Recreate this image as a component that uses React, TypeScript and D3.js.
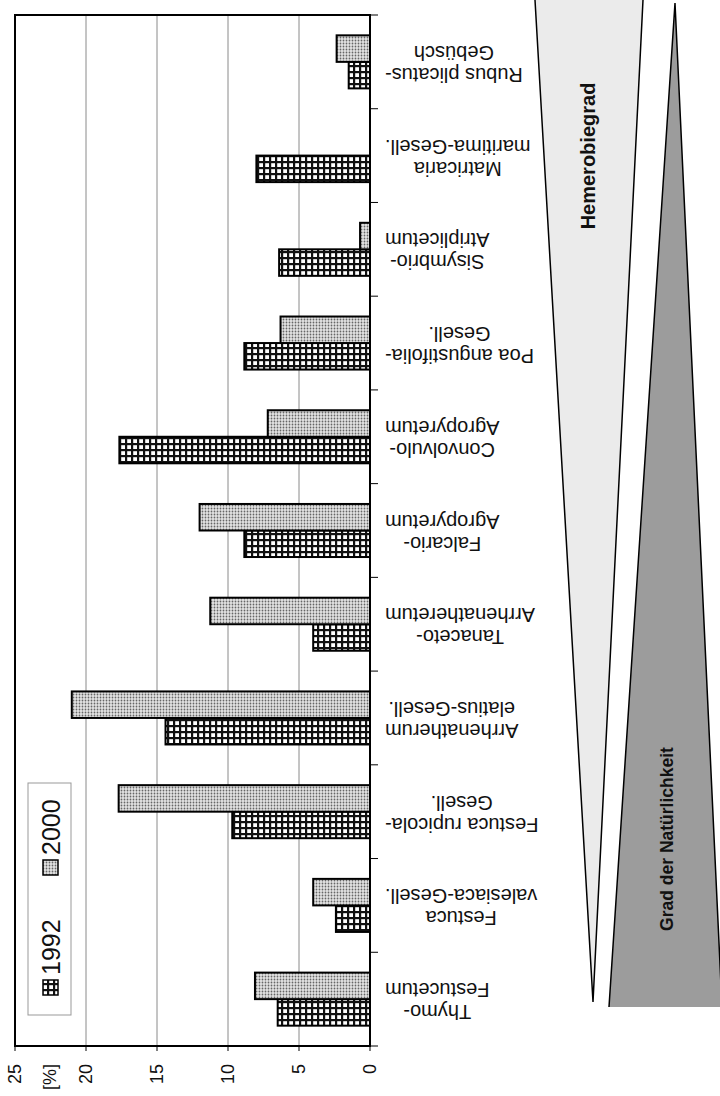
import React from "react";
import * as d3 from "d3";

const categoryLines: string[][] = [
  ["Thymo-", "Festucetum"],
  ["Festuca", "valesiaca-Gesell."],
  ["Festuca rupicola-", "Gesell."],
  ["Arrhenatherum", "elatius-Gesell."],
  ["Tanaceto-", "Arrhenatheretum"],
  ["Falcario-", "Agropyretum"],
  ["Convolvulo-", "Agropyretum"],
  ["Poa angustifolia-", "Gesell."],
  ["Sisymbrio-", "Atriplicetum"],
  ["Matricaria", "maritima-Gesell."],
  ["Rubus plicatus-", "Gebüsch"],
];
const values1992: number[] = [6.5, 2.4, 9.7, 14.4, 4.0, 8.85, 17.65, 8.85, 6.4, 8.0, 1.5];
const values2000: number[] = [8.1, 4.0, 17.7, 21.0, 11.25, 12.0, 7.2, 6.3, 0.7, 0, 2.35];
const seriesNames: string[] = ["1992", "2000"];
const valueTicks: number[] = [0, 5, 10, 15, 20, 25];
const unitLabel = "[%]";
const wedgeLabels: string[] = ["Hemerobiegrad", "Grad der Natürlichkeit"];

const FONT = "'Liberation Sans', Arial, sans-serif";

export default function App() {
  const W = 720, H = 1096;
  const left = 15, right = 370, top = 15, bottom = 1046;
  const ids = categoryLines.map((_, i) => String(i));
  const x = d3.scaleLinear().domain([0, 25]).range([right, left]);
  const y0 = d3.scaleBand().domain(ids).range([bottom, top]).paddingInner(0.434).paddingOuter(0.217);
  const y1 = d3.scaleBand().domain(["2000", "1992"]).range([0, y0.bandwidth()]);
  const step = y0.step();
  const boundaries = d3.range(ids.length + 1).map((i) => bottom - i * step);

  let ctx: CanvasRenderingContext2D | null = null;
  if (typeof document !== "undefined") {
    ctx = document.createElement("canvas").getContext("2d");
    if (ctx) ctx.font = `20px ${FONT}`;
  }
  const measure = (s: string) => (ctx ? ctx.measureText(s).width : s.length * 10);

  const bars: { key: string; y: number; x: number; w: number; h: number; fill: string }[] = [];
  ids.forEach((id, i) => {
    [values1992[i], values2000[i]].forEach((v, j) => {
      const s = seriesNames[j];
      if (v <= 0) return;
      bars.push({
        key: id + s,
        y: (y0(id) as number) + (y1(s) as number),
        x: x(v),
        w: x(0) - x(v),
        h: y1.bandwidth(),
        fill: s === "1992" ? "url(#p1992)" : "url(#p2000)",
      });
    });
  });

  // wedges
  const light: [number, number][] = [[535, 0], [643, 0], [593, 1002]];
  const dark: [number, number][] = [[675, 3], [722, 1007], [609, 1007]];
  const line = d3.line();

  return (
    <svg width={W} height={H} style={{ position: "absolute", left: 0, top: 0, background: "#fff" }} fontFamily={FONT}>
      <defs>
        <pattern id="p1992" width={6} height={6} patternUnits="userSpaceOnUse">
          <rect width={6} height={6} fill="#111" />
          <rect x={1.2} y={1.2} width={3.8} height={3.8} fill="#fff" />
        </pattern>
        <pattern id="p2000" width={3} height={3} patternUnits="userSpaceOnUse">
          <rect width={3} height={3} fill="#e4e4e4" />
          <circle cx={1.5} cy={1.5} r={0.9} fill="#666" />
        </pattern>
      </defs>
      <rect width={W} height={H} fill="#fff" />

      {/* wedges */}
      <path d={line(light) + "Z"} fill="#ebebeb" stroke="none" />
      <path d={line([light[0], light[2], light[1]]) || ""} fill="none" stroke="#000" strokeWidth={1.5} />
      <path d={line(dark) + "Z"} fill="#9c9c9c" stroke="none" />
      <path d={line([dark[2], dark[0], dark[1]]) || ""} fill="none" stroke="#000" strokeWidth={1.5} />
      <text transform="translate(588,156) rotate(-90)" textAnchor="middle" dominantBaseline="central" fontWeight="bold" fontSize={20} fill="#111">{wedgeLabels[0]}</text>
      <text transform="translate(667,839) rotate(-90)" textAnchor="middle" dominantBaseline="central" fontWeight="bold" fontSize={17.5} fill="#111">{wedgeLabels[1]}</text>

      {/* gridlines */}
      {valueTicks.filter((t) => t > 0 && t < 25).map((t) => (
        <line key={"g" + t} x1={x(t)} x2={x(t)} y1={top} y2={bottom} stroke="#8a8a8a" strokeWidth={1} />
      ))}

      {/* bars */}
      {bars.map((b) => (
        <rect key={b.key} x={b.x} y={b.y} width={b.w} height={b.h} fill={b.fill} stroke="#000" strokeWidth={2} />
      ))}

      {/* frame */}
      <rect x={left} y={top} width={right - left} height={bottom - top} fill="none" stroke="#000" strokeWidth={2} />

      {/* category axis ticks */}
      {boundaries.map((b, i) => (
        <line key={"ct" + i} x1={right} x2={right + 8} y1={b} y2={b} stroke="#000" strokeWidth={1} />
      ))}
      {/* value axis ticks */}
      {valueTicks.map((t) => (
        <line key={"vt" + t} x1={x(t)} x2={x(t)} y1={bottom} y2={bottom + 5} stroke="#000" strokeWidth={1} />
      ))}

      {/* value labels */}
      {valueTicks.map((t) => (
        <text key={"vl" + t} transform={`translate(${x(t)},1064) rotate(-90)`} textAnchor="end" dominantBaseline="central" fontSize={18} fill="#111">{t}</text>
      ))}
      <text transform={`translate(${(x(25) + x(20)) / 2 - 1},1064) rotate(-90)`} textAnchor="end" dominantBaseline="central" fontSize={18} fill="#111">{unitLabel}</text>

      {/* category labels (upside down) */}
      {ids.map((id, i) => {
        const lines = categoryLines[i];
        const w = Math.max(...lines.map(measure));
        const cx = 385 + w / 2;
        const cy = (y0(id) as number) + y0.bandwidth() / 2 + 2;
        return (
          <g key={"cl" + id} transform={`translate(${cx},${cy}) rotate(180)`}>
            {lines.map((l, k) => (
              <text key={k} x={0} y={(k - (lines.length - 1) / 2) * 22} textAnchor="middle" dominantBaseline="central" fontSize={20} fill="#111">{l}</text>
            ))}
          </g>
        );
      })}

      {/* legend */}
      <rect x={28} y={783} width={43} height={232} fill="#fff" stroke="#999" strokeWidth={1} />
      <rect x={43} y={980} width={15} height={15} fill="url(#p1992)" stroke="#000" strokeWidth={1.5} />
      <text transform="translate(51,975) rotate(-90)" textAnchor="start" dominantBaseline="central" fontSize={25} fill="#111">{seriesNames[0]}</text>
      <rect x={43} y={860} width={15} height={15} fill="url(#p2000)" stroke="#000" strokeWidth={1.5} />
      <text transform="translate(51,855) rotate(-90)" textAnchor="start" dominantBaseline="central" fontSize={25} fill="#111">{seriesNames[1]}</text>
    </svg>
  );
}
